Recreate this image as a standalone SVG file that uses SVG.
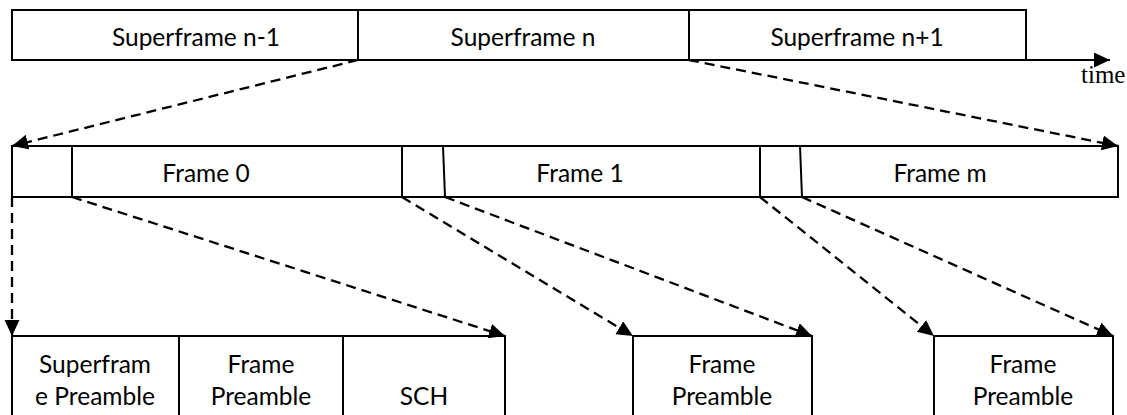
<svg xmlns="http://www.w3.org/2000/svg" width="1127" height="415" viewBox="0 0 1127 415">
<style>
.box{fill:#fff;stroke:#000;stroke-width:2}
.ln{fill:none;stroke:#000;stroke-width:2}
.t{font-family:Lato,"Open Sans","Liberation Sans",sans-serif;font-size:24.5px;fill:#000;text-anchor:middle}
.dash{fill:none;stroke:#000;stroke-width:2.3;stroke-dasharray:10 6}
</style>
<defs>
<marker id="ah" markerUnits="userSpaceOnUse" markerWidth="18" markerHeight="16" refX="16" refY="7.5" orient="auto">
<path d="M0,0 L16,7.5 L0,15 Z" fill="#000"/>
</marker>
</defs>
<rect width="1127" height="415" fill="#fff"/>
<g id="superframe-n-1"><rect class="box" x="12" y="10" width="346" height="50"/><text class="t" x="196" y="46">Superframe n-1</text></g>
<g id="superframe-n"><rect class="box" x="358" y="10" width="331" height="50"/><text class="t" x="523" y="46">Superframe n</text></g>
<g id="superframe-n1"><rect class="box" x="689" y="10" width="337" height="50"/><text class="t" x="857" y="46">Superframe n+1</text></g>
<g id="time-axis"><line class="ln" x1="1026" y1="60" x2="1110" y2="60" marker-end="url(#ah)"/><text x="1081" y="83" font-family="'Liberation Serif',serif" font-size="25">time</text></g>
<g id="frames">
<rect class="box" x="12" y="146" width="1106" height="51"/>
<line class="ln" x1="72" y1="146" x2="72" y2="197"/>
<line class="ln" x1="402" y1="146" x2="402" y2="197"/>
<line class="ln" x1="443" y1="146" x2="445" y2="197"/>
<line class="ln" x1="760" y1="146" x2="760" y2="197"/>
<line class="ln" x1="800" y1="146" x2="802" y2="197"/>
</g>
<g id="frame-0"><text class="t" x="206" y="182">Frame 0</text></g>
<g id="frame-1"><text class="t" x="580" y="182">Frame 1</text></g>
<g id="frame-m"><text class="t" x="940" y="182">Frame m</text></g>
<g id="frame0-detail">
<rect class="box" x="12" y="336" width="493" height="90"/>
<line class="ln" x1="179" y1="336" x2="179" y2="415"/>
<line class="ln" x1="343" y1="336" x2="343" y2="415"/>
<text class="t" x="95" y="373">Superfram</text><text class="t" x="95" y="405">e Preamble</text>
<text class="t" x="261" y="373">Frame</text><text class="t" x="261" y="405">Preamble</text>
<text class="t" x="424" y="405">SCH</text>
</g>
<g id="frame1-detail"><rect class="box" x="633" y="336" width="179" height="90"/><text class="t" x="722" y="373">Frame</text><text class="t" x="722" y="405">Preamble</text></g>
<g id="framem-detail"><rect class="box" x="934" y="336" width="179" height="90"/><text class="t" x="1023" y="373">Frame</text><text class="t" x="1023" y="405">Preamble</text></g>
<g id="connectors">
<line class="dash" x1="358" y1="60" x2="12" y2="146" marker-end="url(#ah)"/>
<line class="dash" x1="689" y1="60" x2="1118" y2="146" marker-end="url(#ah)"/>
<line class="dash" x1="12" y1="197" x2="12" y2="336" marker-end="url(#ah)"/>
<line class="dash" x1="72" y1="197" x2="505" y2="336" marker-end="url(#ah)"/>
<line class="dash" x1="402" y1="197" x2="633" y2="336" marker-end="url(#ah)"/>
<line class="dash" x1="445" y1="197" x2="812" y2="336" marker-end="url(#ah)"/>
<line class="dash" x1="760" y1="197" x2="934" y2="336" marker-end="url(#ah)"/>
<line class="dash" x1="802" y1="197" x2="1113" y2="336" marker-end="url(#ah)"/>
</g>
</svg>
